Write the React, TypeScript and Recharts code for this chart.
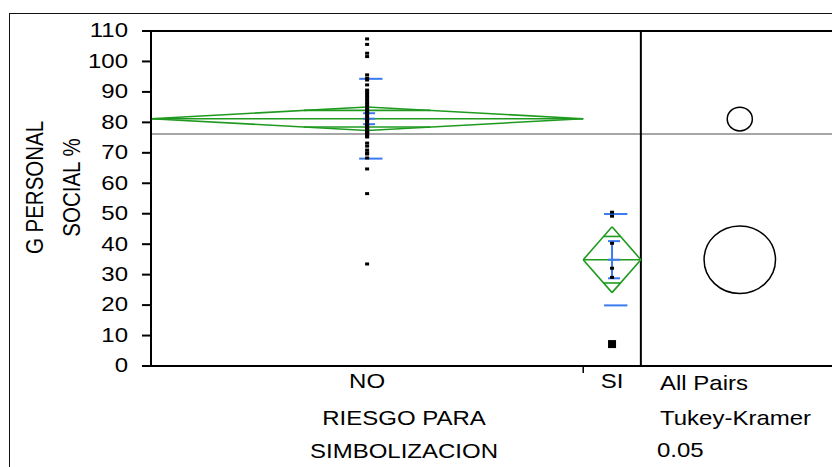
import React from "react";
import { ComposedChart, XAxis, YAxis, Scatter, ReferenceLine, ReferenceArea } from "recharts";

// groups along x; each group's width is proportional to its count
const GROUPS = ["NO", "SI"];
const GROUP_N = [45, 6];

const NO_VALUES = [
  107.4, 105.6, 102.7, 101.6,
  95.6, 94.5, 93.9, 92.3,
  90.6, 89.8, 89.0, 88.2, 87.4, 86.5, 85.7, 84.9, 84.1, 83.3, 83.0, 82.4,
  81.6, 81.0, 80.8, 80.0, 79.2, 79.0, 78.5, 78.0, 77.6, 77.5, 77.0, 76.8,
  76.5, 76.0, 75.5, 75.2,
  73.2, 72.2, 70.9, 70.0, 69.6, 68.3,
  64.7, 56.6, 33.5,
];
const SI_VALUES = [50.5, 49.2, 40.3, 32.1, 29.1, 7.2];

// group summaries
const GROUP_MEANS = [81.2, 34.9];
const CI_HALF = [3.85, 10.8];
const STD_DEV = [13.1, 15.0];
const STD_ERR = [1.8, 6.1];
const GRAND_MEAN = 76.2;

// Tukey-Kramer comparison circles
const CIRCLE_CENTERS = [81.1, 34.9];
const CIRCLE_RADII = [3.9, 11.1];

const Y_TICKS = [0, 10, 20, 30, 40, 50, 60, 70, 80, 90, 100, 110];

const TOTAL_N = GROUP_N[0] + GROUP_N[1];
const X_MAX = 70.9;
const CIRCLE_X = 61.3;
const CIRCLE_ASPECT = 0.335;

const GREEN = "#1f9a1f";
const BLUE = "#3b7bf0";
const FONT = "'Liberation Sans', Arial, sans-serif";
const STRETCH = 1.2;

const starts = [0, GROUP_N[0]];
const centers = GROUP_N.map((n, i) => starts[i] + n / 2);

type Seg = { x1: number; y1: number; x2: number; y2: number; color: string; w: number };

const segments: Seg[] = [];
GROUPS.forEach((_, i) => {
  const s = starts[i];
  const e = s + GROUP_N[i];
  const c = centers[i];
  const m = GROUP_MEANS[i];
  const h = CI_HALF[i];
  const g = (x1: number, y1: number, x2: number, y2: number) =>
    segments.push({ x1, y1, x2, y2, color: GREEN, w: 1.6 });
  // means diamond
  g(s, m, c, m + h);
  g(c, m + h, e, m);
  g(e, m, c, m - h);
  g(c, m - h, s, m);
  g(s, m, e, m);
  // overlap marks
  const k = (GROUP_N[i] / 2) * (1 - Math.SQRT1_2);
  g(c - k, m + h * Math.SQRT1_2, c + k, m + h * Math.SQRT1_2);
  g(c - k, m - h * Math.SQRT1_2, c + k, m - h * Math.SQRT1_2);

  const b = (x1: number, y1: number, x2: number, y2: number) =>
    segments.push({ x1, y1, x2, y2, color: BLUE, w: 2 });
  // std dev lines
  b(c - 0.83, m + STD_DEV[i], c + 1.6, m + STD_DEV[i]);
  b(c - 0.83, m - STD_DEV[i], c + 1.6, m - STD_DEV[i]);
  // mean error bars
  b(c, m - STD_ERR[i], c, m + STD_ERR[i]);
  [m - STD_ERR[i], m, m + STD_ERR[i]].forEach((v) => b(c - 0.42, v, c + 0.83, v));
});

const noPoints = NO_VALUES.map((v) => ({ x: centers[0], y: v }));
const siPoints = SI_VALUES.map((v, i) => ({ x: centers[1], y: v, big: i === SI_VALUES.length - 1 }));

const Marker = (p: any) => {
  const w = p.payload && p.payload.big ? 8 : 4;
  const h = p.payload && p.payload.big ? 8 : 3;
  return <rect x={p.cx - w / 2} y={p.cy - h / 2} width={w} height={h} fill="#000" />;
};

const YTick = (p: any) => (
  <text
    transform={`translate(${p.x},${p.y}) scale(${STRETCH},1)`}
    dy="0.32em"
    textAnchor="end"
    fontSize={20}
    fontFamily={FONT}
    fill="#000"
  >
    {p.payload.value}
  </text>
);

const XTick = (p: any) => {
  const idx = centers.indexOf(p.payload.value);
  return (
    <text
      transform={`translate(${p.x},${p.y + 14}) scale(${STRETCH},1)`}
      textAnchor="middle"
      fontSize={20}
      fontFamily={FONT}
      fill="#000"
    >
      {GROUPS[idx]}
    </text>
  );
};

const Txt = ({ x, y, anchor = "start", children }: any) => (
  <text
    transform={`translate(${x},${y}) scale(${STRETCH},1)`}
    textAnchor={anchor}
    fontSize={20}
    fontFamily={FONT}
    fill="#000"
  >
    {children}
  </text>
);

const BottomLabels = (p: any) => {
  const { x, y } = p.viewBox;
  return (
    <g>
      <Txt x={x + 253} y={y + 59} anchor="middle">RIESGO PARA</Txt>
      <Txt x={x + 253} y={y + 92} anchor="middle">SIMBOLIZACION</Txt>
      <Txt x={x + 509} y={y + 24}>All Pairs</Txt>
      <Txt x={x + 509} y={y + 59}>Tukey-Kramer</Txt>
      <Txt x={x + 506} y={y + 91}>0.05</Txt>
    </g>
  );
};

const SideLabel = (p: any) => {
  const { y, height } = p.viewBox;
  const cy = y + height / 2 - 11;
  const line = (cx: number, s: string) => (
    <text
      transform={`translate(${cx},${cy}) scale(${STRETCH},1) rotate(-90)`}
      dy="0.35em"
      textAnchor="middle"
      fontSize={20.5}
      fontFamily={FONT}
      fill="#000"
    >
      {s}
    </text>
  );
  return (
    <g>
      {line(34, "G PERSONAL")}
      {line(71, "SOCIAL %")}
    </g>
  );
};

const Circle = (p: any) => (
  <ellipse
    cx={p.x + p.width / 2}
    cy={p.y + p.height / 2}
    rx={p.width / 2}
    ry={p.height / 2}
    fill="none"
    stroke="#000"
    strokeWidth={1.5}
  />
);

export default function App() {
  return (
    <div style={{ position: "absolute", left: 0, top: 0, width: 832, height: 467, background: "#fff" }}>
      <div
        style={{
          position: "absolute",
          left: 9,
          top: 13,
          width: 830,
          height: 460,
          borderTop: "1.5px solid #111",
          borderLeft: "1.5px solid #111",
        }}
      />
      <div style={{ position: "absolute", left: 0, top: 0 }}>
        <ComposedChart width={832} height={467} margin={{ top: 31, right: 0, bottom: 0, left: 0 }}>
          <XAxis
            type="number"
            dataKey="x"
            domain={[0, X_MAX]}
            ticks={centers}
            interval={0}
            tick={<XTick />}
            tickLine={false}
            axisLine={false}
            height={101}
            label={{ content: <BottomLabels /> }}
          />
          <YAxis
            type="number"
            dataKey="y"
            domain={[0, 110]}
            ticks={Y_TICKS}
            interval={0}
            width={151}
            tickSize={9}
            tickMargin={14}
            tick={<YTick />}
            tickLine={{ stroke: "#000", strokeWidth: 2 }}
            axisLine={{ stroke: "#000", strokeWidth: 2 }}
            label={{ content: <SideLabel /> }}
          />
          <ReferenceLine y={GRAND_MEAN} stroke="#888" strokeWidth={1.5} />
          <ReferenceLine y={110} stroke="#000" strokeWidth={2} />
          <ReferenceLine y={0} stroke="#000" strokeWidth={2} />
          <ReferenceLine x={TOTAL_N} stroke="#000" strokeWidth={2} />
          <ReferenceLine
            segment={[{ x: starts[1], y: 0 }, { x: starts[1], y: -2.3 }]}
            stroke="#000"
            strokeWidth={1.5}
            ifOverflow="visible"
          />
          {segments.map((s, i) => (
            <ReferenceLine
              key={i}
              segment={[{ x: s.x1, y: s.y1 }, { x: s.x2, y: s.y2 }]}
              stroke={s.color}
              strokeWidth={s.w}
              ifOverflow="visible"
            />
          ))}
          {CIRCLE_CENTERS.map((c, i) => (
            <ReferenceArea
              key={"c" + i}
              x1={CIRCLE_X - CIRCLE_RADII[i] * CIRCLE_ASPECT}
              x2={CIRCLE_X + CIRCLE_RADII[i] * CIRCLE_ASPECT}
              y1={c - CIRCLE_RADII[i]}
              y2={c + CIRCLE_RADII[i]}
              shape={<Circle />}
              ifOverflow="visible"
            />
          ))}
          <Scatter data={noPoints} shape={<Marker />} isAnimationActive={false} />
          <Scatter data={siPoints} shape={<Marker />} isAnimationActive={false} />
        </ComposedChart>
      </div>
    </div>
  );
}
